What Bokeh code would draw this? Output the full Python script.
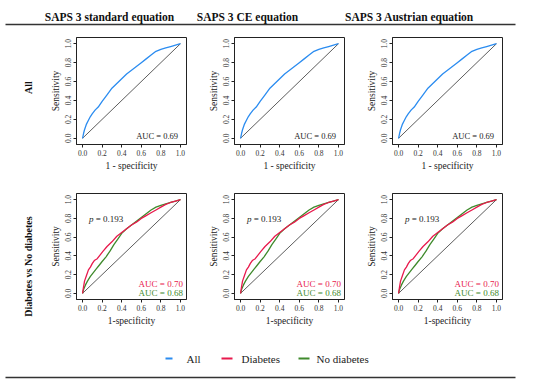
import numpy as np
from bokeh.plotting import figure
from bokeh.layouts import column, row
from bokeh.models import Range1d, FixedTicker
from bokeh.core.properties import value
from bokeh.embed import file_html
from bokeh.resources import INLINE

SERIF = "Liberation Serif"

equations = ["SAPS 3 standard equation", "SAPS 3 CE equation", "SAPS 3 Austrian equation"]
row_labels = ["All", "Diabetes vs No diabetes"]
series_names = ["All", "Diabetes", "No diabetes"]
series_colors = ["#2b8cf0", "#e8194c", "#3f8a2c"]

# ROC curve, whole cohort
all_fpr = [0, 0.01, 0.02, 0.04, 0.06, 0.08, 0.10, 0.13, 0.16, 0.20, 0.25, 0.30, 0.35,
           0.40, 0.45, 0.50, 0.55, 0.60, 0.65, 0.70, 0.75, 0.80, 0.85, 0.90, 0.95, 1.0]
all_tpr = [0, 0.05, 0.09, 0.15, 0.19, 0.23, 0.26, 0.30, 0.33, 0.39, 0.46, 0.53, 0.58,
           0.63, 0.68, 0.72, 0.76, 0.80, 0.84, 0.88, 0.92, 0.94, 0.955, 0.97, 0.985, 1.0]

# ROC curves, diabetes / no diabetes
diab_fpr = [0, 0.01, 0.02, 0.04, 0.06, 0.08, 0.10, 0.12, 0.15, 0.18, 0.21, 0.25, 0.30,
            0.35, 0.40, 0.45, 0.50, 0.55, 0.60, 0.65, 0.70, 0.75, 0.80, 0.85, 0.90, 0.95, 1.0]
diab_tpr = [0, 0.07, 0.13, 0.19, 0.25, 0.28, 0.32, 0.35, 0.37, 0.41, 0.45, 0.50, 0.55,
            0.61, 0.65, 0.69, 0.73, 0.76, 0.80, 0.83, 0.86, 0.89, 0.92, 0.95, 0.97, 0.985, 1.0]
nodiab_fpr = [0, 0.01, 0.03, 0.05, 0.08, 0.11, 0.14, 0.17, 0.20, 0.24, 0.28, 0.32, 0.36,
              0.40, 0.45, 0.50, 0.55, 0.60, 0.65, 0.70, 0.75, 0.80, 0.85, 0.90, 0.95, 1.0]
nodiab_tpr = [0, 0.04, 0.09, 0.13, 0.18, 0.22, 0.26, 0.30, 0.34, 0.39, 0.45, 0.52, 0.58,
              0.64, 0.69, 0.73, 0.77, 0.81, 0.85, 0.89, 0.92, 0.94, 0.955, 0.97, 0.985, 1.0]

auc_all = "AUC = 0.69"
auc_diab = "AUC = 0.70"
auc_nodiab = "AUC = 0.68"
p_value = "0.193"
ticks = [0.0, 0.2, 0.4, 0.6, 0.8, 1.0]
tick_labels = {t: f"{t:.1f}" for t in ticks}

DARK = "#222222"


def panel(top, bottom, height, xlabel):
    p = figure(width=158, height=height,
               x_range=Range1d(-0.062, 1.062), y_range=Range1d(-0.066, 1.066),
               output_backend="svg", toolbar_location=None,
               min_border_left=36, min_border_right=12,
               min_border_top=top, min_border_bottom=bottom)
    p.grid.visible = False
    p.outline_line_color = DARK
    p.outline_line_width = 1
    for ax in (p.xaxis[0], p.yaxis[0]):
        ax.ticker = FixedTicker(ticks=ticks)
        ax.major_label_overrides = tick_labels
        ax.major_label_text_font = SERIF
        ax.major_label_text_font_size = "7.5px"
        ax.major_label_text_color = "#333333"
        ax.minor_tick_line_color = None
        ax.major_tick_out = 3
        ax.major_tick_in = 0
        ax.major_tick_line_color = DARK
        ax.axis_line_color = DARK
        ax.major_label_standoff = 2
        ax.axis_label_standoff = 2
        ax.axis_label_text_font = SERIF
        ax.axis_label_text_font_size = "9.5px"
        ax.axis_label_text_font_style = "normal"
        ax.axis_label_text_color = DARK
    p.xaxis.axis_label = xlabel
    p.yaxis.axis_label = "Sensitivity"
    p.yaxis.major_label_orientation = "vertical"
    p.line([0, 1], [0, 1], line_color="#333333", line_width=0.8)
    return p


def text_fig(width, height):
    f = figure(width=width, height=height, x_range=Range1d(0, width), y_range=Range1d(0, height),
               output_backend="svg", toolbar_location=None, x_axis_type=None, y_axis_type=None,
               min_border=0, title=None)
    f.grid.visible = False
    f.outline_line_color = None
    return f


# Header
header = text_fig(550, 30)
header.text(x=[109, 247, 409], y=[13.5] * 3, text=equations, text_font=value(SERIF),
            text_font_style="bold", text_font_size="11.5px", text_align="center",
            text_baseline="alphabetic", text_color="#111111")
header.line([5, 515], [6, 6], line_color="#333333", line_width=1.5)

# Row labels (one figure spanning both panel rows: page y 30..335)
labs = text_fig(40, 305)
labs.text(x=[28, 28], y=[248, 69], text=row_labels, angle=np.pi / 2, text_font=value(SERIF),
          text_font_style="bold", text_font_size="10px", text_align="center",
          text_baseline="middle", text_color="#111111")

# Row 1
row1 = []
for i in range(3):
    p = panel(7, 41, 155, "1 - specificity")
    p.line(all_fpr, all_tpr, line_color=series_colors[0], line_width=1.3)
    p.text(x=[0.976], y=[0.02], text=[auc_all], text_font=value(SERIF), text_font_size="8.5px",
           text_align="right", text_baseline="alphabetic", text_color=DARK)
    row1.append(p)

# Row 2
row2 = []
for i in range(3):
    p = panel(8, 36, 150, "1-specificity")
    p.line(nodiab_fpr, nodiab_tpr, line_color=series_colors[2], line_width=1.3)
    p.line(diab_fpr, diab_tpr, line_color=series_colors[1], line_width=1.3)
    p.text(x=[0.065], y=[0.79], text=["p"], text_font=value(SERIF), text_font_style="italic",
           text_font_size="9px", text_align="left", text_baseline="alphabetic", text_color=DARK)
    p.text(x=[0.135], y=[0.79], text=[" = " + p_value], text_font=value(SERIF),
           text_font_size="9px", text_align="left", text_baseline="alphabetic", text_color=DARK)
    p.text(x=[1.025], y=[0.10], text=[auc_diab], text_font=value(SERIF), text_font_size="9px",
           text_align="right", text_baseline="alphabetic", text_color=series_colors[1])
    p.text(x=[1.025], y=[0.0], text=[auc_nodiab], text_font=value(SERIF), text_font_size="9px",
           text_align="right", text_baseline="alphabetic", text_color=series_colors[2])
    row2.append(p)

# Legend
leg = text_fig(550, 51)
leg_x0 = [165, 221, 298]
leg_x1 = [172, 232, 309]
leg_tx = [186, 241, 316]
for k in range(3):
    leg.line([leg_x0[k], leg_x1[k]], [28, 28], line_color=series_colors[k], line_width=2)
leg.text(x=leg_tx, y=[28] * 3, text=series_names, text_font=value(SERIF), text_font_size="11px",
         text_align="left", text_baseline="middle", text_color=DARK)
leg.line([5, 515], [9, 9], line_color="#333333", line_width=1.5)

panels = column(row(*row1, spacing=0), row(*row2, spacing=0), spacing=0)
layout = column(header, row(labs, panels, spacing=0), leg, spacing=0)

open("out.html", "w").write(file_html(layout, INLINE))
